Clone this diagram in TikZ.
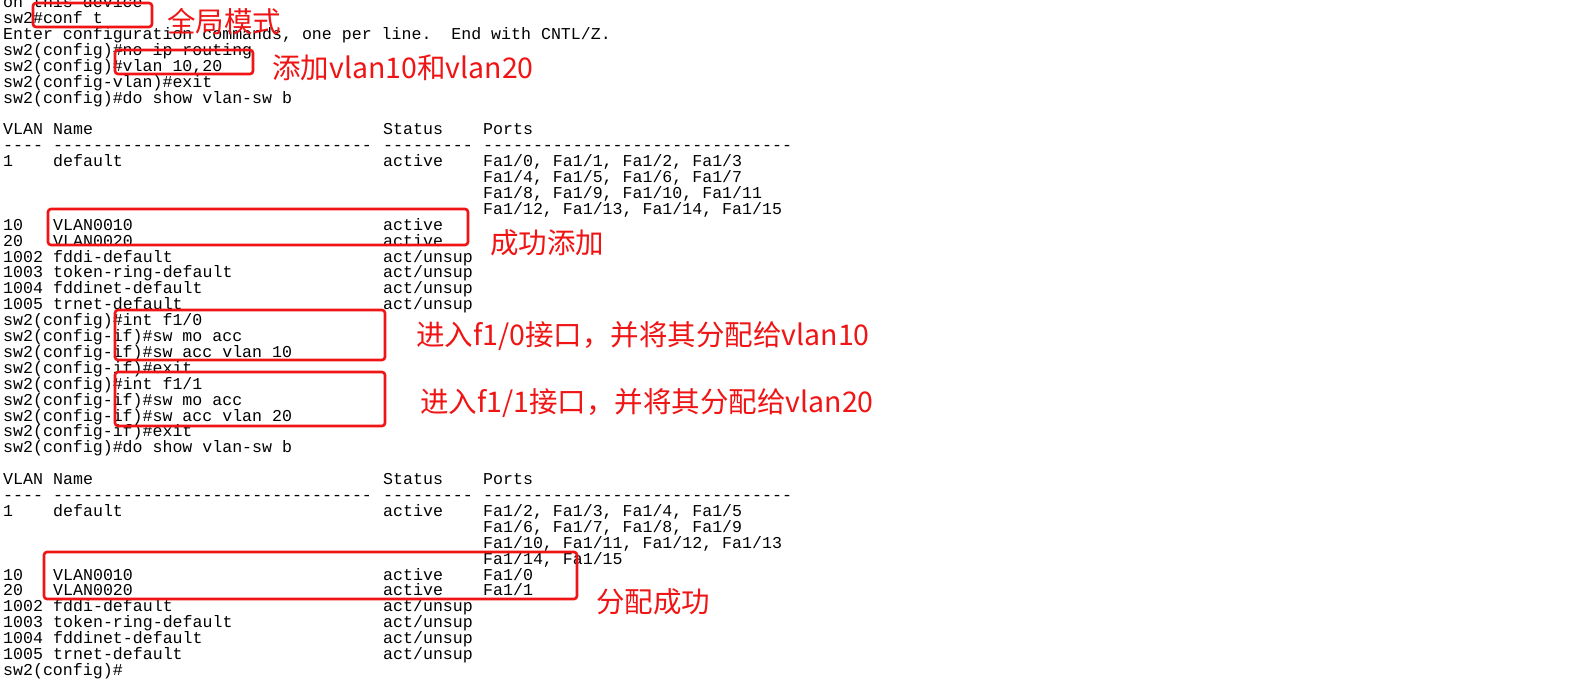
\documentclass[tikz,border=0pt]{standalone}
\usepackage{fontspec}
\newfontfamily\monof{Liberation Mono}
\newfontfamily\cjk{Noto Sans CJK SC}
\definecolor{redbox}{RGB}{240,20,20}
\tikzset{
  term/.style={anchor=base west,inner sep=0pt,font=\monof\fontsize{16.6}{16}\selectfont,text=black},
  ann/.style={anchor=base west,inner sep=0pt,font=\cjk\fontsize{28.5}{28}\selectfont,text=redbox},
  rbox/.style={draw=redbox,line width=2.6pt,rounded corners=3pt}
}
\newcommand{\tl}[3]{\node[term] (l#1c#2) at ({3+10*#2},{-(23.5+15.9*(#1-1))}) {#3};}
\begin{document}
\begin{tikzpicture}[x=1pt,y=1pt]
\useasboundingbox (0,0) rectangle (1574,-680);
\clip (0,0) rectangle (1574,-680);
\fill[white] (0,0) rectangle (1574,-680);
\tl{0}{0}{on this device}
\tl{1}{0}{sw2\#conf t}
\tl{2}{0}{Enter configuration commands, one per line.\ \ End with CNTL/Z.}
\tl{3}{0}{sw2(config)\#no ip routing}
\tl{4}{0}{sw2(config)\#vlan 10,20}
\tl{5}{0}{sw2(config-vlan)\#exit}
\tl{6}{0}{sw2(config)\#do show vlan-sw b}
\tl{8}{0}{VLAN}\tl{8}{5}{Name}\tl{8}{38}{Status}\tl{8}{48}{Ports}
\tl{9}{0}{----}\tl{9}{5}{--------------------------------}\tl{9}{38}{---------}\tl{9}{48}{-------------------------------}
\tl{10}{0}{1}\tl{10}{5}{default}\tl{10}{38}{active}\tl{10}{48}{Fa1/0, Fa1/1, Fa1/2, Fa1/3}
\tl{11}{48}{Fa1/4, Fa1/5, Fa1/6, Fa1/7}
\tl{12}{48}{Fa1/8, Fa1/9, Fa1/10, Fa1/11}
\tl{13}{48}{Fa1/12, Fa1/13, Fa1/14, Fa1/15}
\tl{14}{0}{10}\tl{14}{5}{VLAN0010}\tl{14}{38}{active}
\tl{15}{0}{20}\tl{15}{5}{VLAN0020}\tl{15}{38}{active}
\tl{16}{0}{1002}\tl{16}{5}{fddi-default}\tl{16}{38}{act/unsup}
\tl{17}{0}{1003}\tl{17}{5}{token-ring-default}\tl{17}{38}{act/unsup}
\tl{18}{0}{1004}\tl{18}{5}{fddinet-default}\tl{18}{38}{act/unsup}
\tl{19}{0}{1005}\tl{19}{5}{trnet-default}\tl{19}{38}{act/unsup}
\tl{20}{0}{sw2(config)\#int f1/0}
\tl{21}{0}{sw2(config-if)\#sw mo acc}
\tl{22}{0}{sw2(config-if)\#sw acc vlan 10}
\tl{23}{0}{sw2(config-if)\#exit}
\tl{24}{0}{sw2(config)\#int f1/1}
\tl{25}{0}{sw2(config-if)\#sw mo acc}
\tl{26}{0}{sw2(config-if)\#sw acc vlan 20}
\tl{27}{0}{sw2(config-if)\#exit}
\tl{28}{0}{sw2(config)\#do show vlan-sw b}
\tl{30}{0}{VLAN}\tl{30}{5}{Name}\tl{30}{38}{Status}\tl{30}{48}{Ports}
\tl{31}{0}{----}\tl{31}{5}{--------------------------------}\tl{31}{38}{---------}\tl{31}{48}{-------------------------------}
\tl{32}{0}{1}\tl{32}{5}{default}\tl{32}{38}{active}\tl{32}{48}{Fa1/2, Fa1/3, Fa1/4, Fa1/5}
\tl{33}{48}{Fa1/6, Fa1/7, Fa1/8, Fa1/9}
\tl{34}{48}{Fa1/10, Fa1/11, Fa1/12, Fa1/13}
\tl{35}{48}{Fa1/14, Fa1/15}
\tl{36}{0}{10}\tl{36}{5}{VLAN0010}\tl{36}{38}{active}\tl{36}{48}{Fa1/0}
\tl{37}{0}{20}\tl{37}{5}{VLAN0020}\tl{37}{38}{active}\tl{37}{48}{Fa1/1}
\tl{38}{0}{1002}\tl{38}{5}{fddi-default}\tl{38}{38}{act/unsup}
\tl{39}{0}{1003}\tl{39}{5}{token-ring-default}\tl{39}{38}{act/unsup}
\tl{40}{0}{1004}\tl{40}{5}{fddinet-default}\tl{40}{38}{act/unsup}
\tl{41}{0}{1005}\tl{41}{5}{trnet-default}\tl{41}{38}{act/unsup}
\tl{42}{0}{sw2(config)\#}
% red boxes
\draw[rbox] (33,-3) rectangle (152,-27);
\draw[rbox] (115,-50) rectangle (253,-74);
\draw[rbox] (48,-209) rectangle (468,-245);
\draw[rbox] (115,-310) rectangle (385,-360);
\draw[rbox] (115,-372) rectangle (385,-426);
\draw[rbox] (44,-552) rectangle (577,-599);
% annotations
\node[ann] (a1) at (167,-32) {全局模式};
\node[ann] (a2) at (272,-78) {添加vlan10和vlan20};
\node[ann] (a3) at (490,-253) {成功添加};
\node[ann] (a4) at (416,-345) {进入f1/0接口，并将其分配给vlan10};
\node[ann] (a5) at (420,-412) {进入f1/1接口，并将其分配给vlan20};
\node[ann] (a6) at (596,-612) {分配成功};
\end{tikzpicture}
\end{document}
